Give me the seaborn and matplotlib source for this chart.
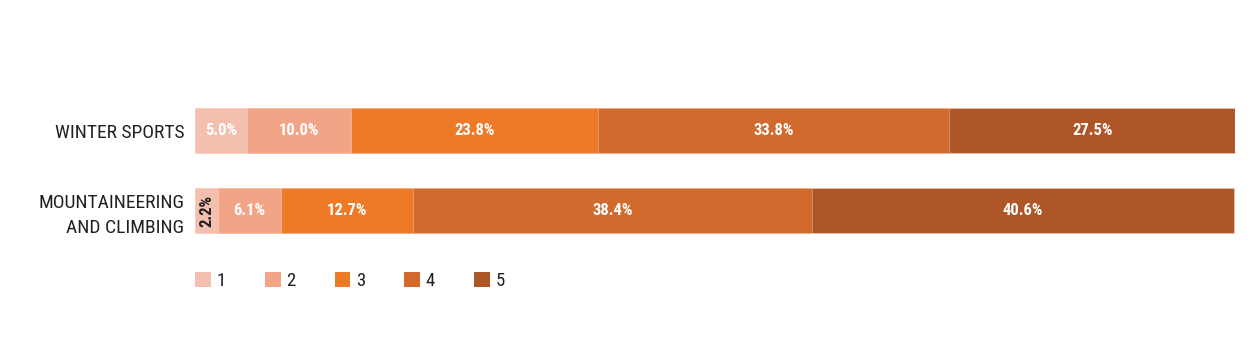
import numpy as np
import pandas as pd
import matplotlib
matplotlib.use("Agg")
import matplotlib.pyplot as plt
from matplotlib.patches import Patch
import seaborn as sns

categories = ["WINTER SPORTS", "MOUNTAINEERING\nAND CLIMBING"]
ratings = ["1", "2", "3", "4", "5"]
r1 = [5.0, 2.2]
r2 = [10.0, 6.1]
r3 = [23.8, 12.7]
r4 = [33.8, 38.4]
r5 = [27.5, 40.6]
colors = ["#F3BFAE", "#F2A487", "#EE7A27", "#D2692D", "#AE5627"]

sns.set_theme(style="white")
plt.rcParams["font.family"] = ["Roboto Condensed", "DejaVu Sans"]

series = [r1, r2, r3, r4, r5]
df = pd.DataFrame({"category": categories})
for lab, vals in zip(ratings, series):
    df[lab] = vals
cum = df[ratings].cumsum(axis=1)

fig = plt.figure(figsize=(12.6, 3.5), dpi=100)
ax = fig.add_axes([195/1260, (350-250.5)/350, 1040/1260, 160/350])

# draw cumulative totals from largest to smallest so each stack segment shows
for i in range(len(ratings) - 1, -1, -1):
    sns.barplot(x=cum[ratings[i]], y=df["category"], orient="h", color=colors[i],
                width=45/80, saturation=1, edgecolor=(1, 1, 1, 0.25), linewidth=0.8, ax=ax)

total = cum[ratings[-1]].max()
ax.set_xlim(0, total)
ax.set_ylim(1.5, -0.5)
ax.set_xlabel("")
ax.set_ylabel("")
ax.set_xticks([])
for s in ax.spines.values():
    s.set_visible(False)
ax.tick_params(axis="y", length=0, pad=7.5, labelsize=14, labelcolor="#231f20")
for t in ax.get_yticklabels():
    t.set_horizontalalignment("right")
    t.set_multialignment("right")
    t.set_linespacing(1.45)

# segment labels
for row in range(len(categories)):
    left = 0.0
    for i, lab in enumerate(ratings):
        v = df.loc[row, lab]
        c = left + v / 2
        if v < 4:
            ax.text(c, row, f"{v:.1f}%", ha="center", va="center", rotation=90,
                    color="#231f20", fontsize=12, fontweight="bold")
        else:
            ax.text(c, row, f"{v:.1f}%", ha="center", va="center",
                    color="white", fontsize=12, fontweight="bold")
        left += v

handles = [Patch(facecolor=c, edgecolor="none") for c in colors]
fig.legend(handles, ratings, loc="center left", bbox_to_anchor=(178/1260, 1 - 281/350),
           ncol=5, frameon=False, fontsize=13.5, handlelength=0.85, handleheight=0.85,
           handletextpad=0.3, columnspacing=2.08, labelcolor="#231f20")

fig.savefig("out.png", dpi=100)
